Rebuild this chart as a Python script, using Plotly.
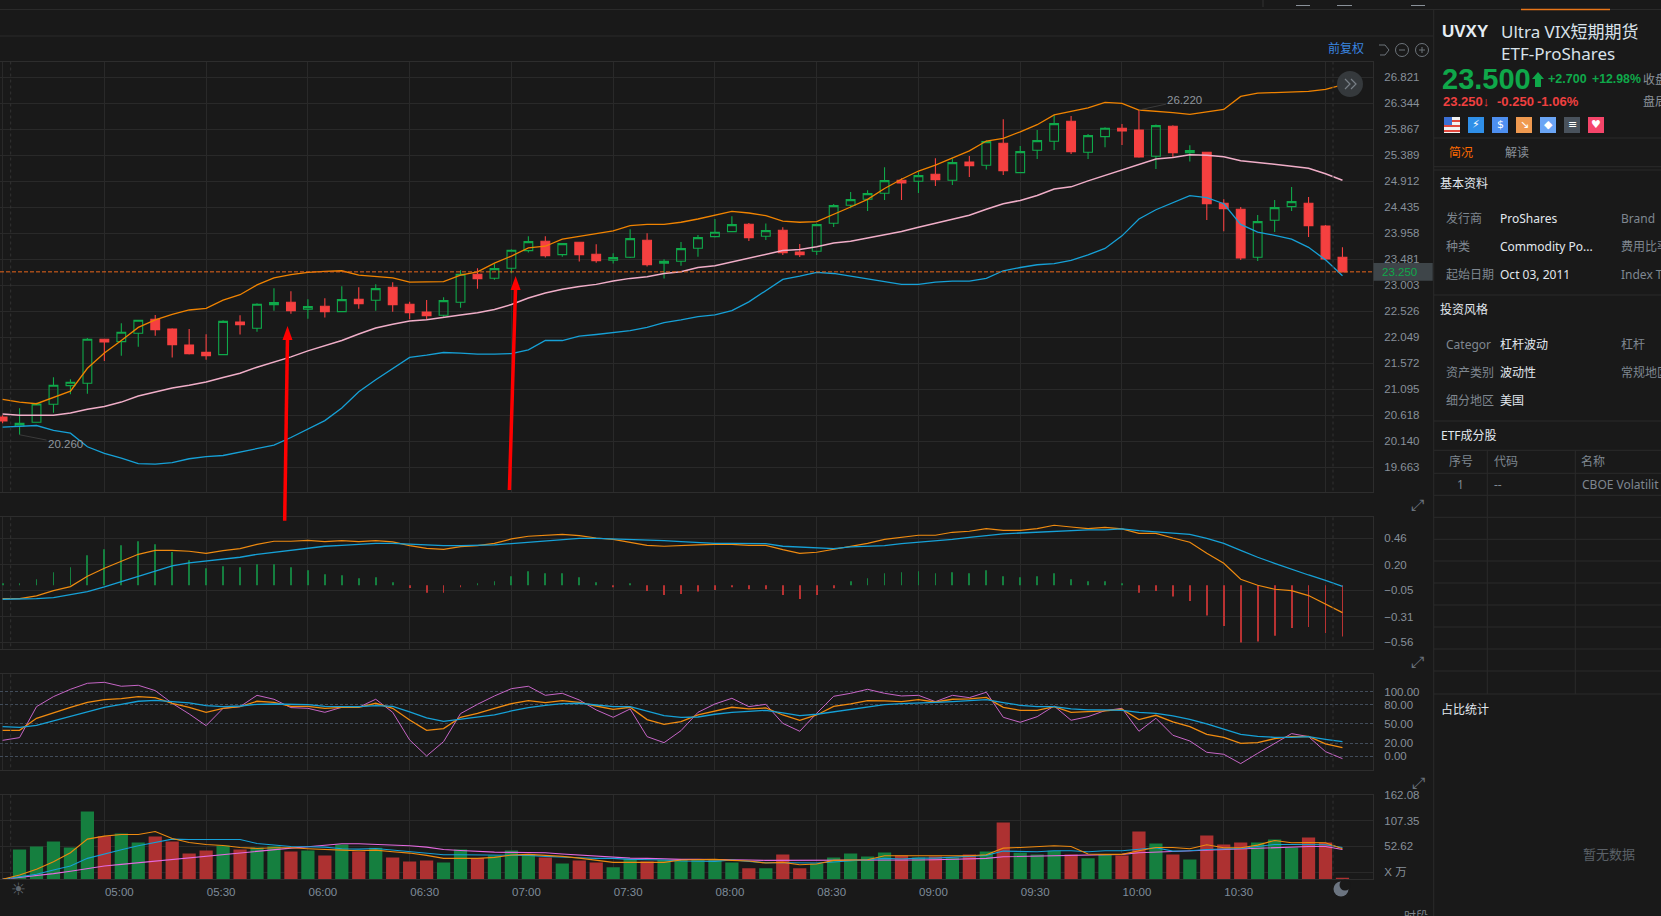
import plotly.graph_objects as go
from plotly.subplots import make_subplots

W, H = 1661, 916

# candles, 5 minute bars from 04:30
open_ = [20.586, 20.421, 20.489, 20.819, 21.162, 21.205, 22.012, 21.969, 22.122, 22.379,
         22.202, 21.908, 21.773, 21.731, 22.33, 22.214, 22.648, 22.691, 22.563, 22.618,
         22.52, 22.746, 22.728, 22.967, 22.655, 22.514, 22.453, 22.691, 23.205, 23.132,
         23.315, 23.64, 23.811, 23.566, 23.792, 23.572, 23.462, 23.517, 23.829, 23.407,
         23.444, 23.682, 23.896, 23.988, 24.123, 23.903, 24.013, 23.615, 23.627, 24.141,
         24.471, 24.582, 24.692, 24.93, 24.912, 25.04, 24.93, 25.267, 25.206, 25.609,
         25.071, 25.481, 25.646, 26.013, 25.444, 25.732, 25.885, 25.854, 25.371, 25.921,
         25.438, 25.444, 24.508, 24.398, 23.517, 24.196, 24.447, 24.508, 24.092, 23.517]
high = [20.62, 20.745, 20.85, 21.315, 21.278, 22.037, 22.024, 22.306, 22.373, 22.459,
        22.214, 22.202, 22.104, 22.361, 22.453, 22.673, 22.948, 22.893, 22.746, 22.765,
        22.985, 22.967, 23.022, 23.058, 22.703, 22.734, 22.783, 23.278, 23.315, 23.395,
        23.664, 23.903, 23.903, 23.78, 23.798, 23.756, 23.591, 24.031, 23.958, 23.48,
        23.798, 23.927, 24.221, 24.27, 24.147, 24.135, 24.068, 23.762, 24.135, 24.496,
        24.716, 24.747, 25.169, 24.967, 25.089, 25.334, 25.328, 25.377, 25.658, 26.05,
        25.561, 25.854, 26.129, 26.111, 25.781, 25.903, 25.964, 26.22, 25.952, 25.94,
        25.573, 25.45, 24.582, 24.441, 24.294, 24.569, 24.808, 24.624, 24.11, 23.701]
low = [20.47, 20.26, 20.483, 20.666, 21.003, 21.015, 21.614, 21.712, 21.877, 22.079,
       21.676, 21.731, 21.639, 21.718, 22.098, 22.153, 22.538, 22.483, 22.391, 22.41,
       22.52, 22.575, 22.538, 22.52, 22.379, 22.385, 22.428, 22.593, 22.942, 23.107,
       23.223, 23.603, 23.511, 23.529, 23.438, 23.419, 23.401, 23.505, 23.346, 23.126,
       23.364, 23.529, 23.878, 23.982, 23.817, 23.835, 23.56, 23.523, 23.56, 24.074,
       24.416, 24.367, 24.569, 24.569, 24.698, 24.826, 24.845, 24.992, 25.126, 25.028,
       25.059, 25.322, 25.487, 25.414, 25.322, 25.536, 25.579, 25.346, 25.138, 25.352,
       25.273, 24.202, 23.994, 23.468, 23.45, 23.982, 24.367, 23.89, 23.48, 23.25]
close = [20.513, 20.47, 20.825, 21.168, 21.223, 22.012, 21.963, 22.141, 22.361, 22.19,
         21.914, 21.749, 21.712, 22.342, 22.281, 22.655, 22.685, 22.538, 22.612, 22.52,
         22.74, 22.667, 22.942, 22.648, 22.501, 22.447, 22.722, 23.205, 23.126, 23.309,
         23.646, 23.805, 23.548, 23.768, 23.566, 23.456, 23.511, 23.86, 23.383, 23.444,
         23.676, 23.878, 23.976, 24.117, 23.878, 24.007, 23.603, 23.566, 24.117, 24.465,
         24.576, 24.686, 24.924, 24.881, 25.016, 24.943, 25.255, 25.2, 25.64, 25.108,
         25.457, 25.658, 25.97, 25.457, 25.75, 25.885, 25.836, 25.359, 25.934, 25.438,
         25.475, 24.502, 24.41, 23.505, 24.172, 24.429, 24.539, 24.098, 23.487, 23.25]

boll_up = [20.91, 20.86, 20.83, 20.95, 21.06, 21.48, 21.76, 21.99, 22.23, 22.37,
           22.47, 22.55, 22.58, 22.73, 22.83, 23.01, 23.14, 23.20, 23.24, 23.26,
           23.27, 23.19, 23.17, 23.14, 23.06, 23.06, 23.07, 23.19, 23.25, 23.41,
           23.54, 23.69, 23.72, 23.85, 23.90, 23.95, 24.00, 24.10, 24.12, 24.12,
           24.16, 24.22, 24.29, 24.36, 24.33, 24.28, 24.18, 24.16, 24.17, 24.30,
           24.44, 24.58, 24.78, 24.95, 25.10, 25.21, 25.34, 25.47, 25.65, 25.70,
           25.82, 25.95, 26.13, 26.19, 26.26, 26.36, 26.34, 26.22, 26.20, 26.17,
           26.14, 26.18, 26.23, 26.47, 26.53, 26.54, 26.55, 26.56, 26.60, 26.68]
boll_mid = [20.64, 20.62, 20.62, 20.62, 20.66, 20.73, 20.78, 20.86, 20.97, 21.05,
            21.12, 21.17, 21.23, 21.31, 21.39, 21.50, 21.59, 21.69, 21.80, 21.89,
            21.99, 22.11, 22.22, 22.29, 22.35, 22.37, 22.42, 22.46, 22.50, 22.56,
            22.65, 22.77, 22.86, 22.93, 22.98, 23.02, 23.08, 23.13, 23.16, 23.22,
            23.25, 23.33, 23.36, 23.43, 23.51, 23.58, 23.64, 23.66, 23.71, 23.78,
            23.81, 23.87, 23.93, 23.99, 24.07, 24.14, 24.22, 24.29, 24.40, 24.50,
            24.56, 24.65, 24.77, 24.81, 24.92, 25.02, 25.13, 25.23, 25.32, 25.35,
            25.40, 25.39, 25.36, 25.29, 25.26, 25.22, 25.19, 25.15, 25.05, 24.93]
boll_low = [20.40, 20.42, 20.43, 20.34, 20.29, 20.04, 19.92, 19.83, 19.73, 19.72,
            19.75, 19.82, 19.86, 19.88, 19.94, 20.00, 20.07, 20.21, 20.37, 20.52,
            20.75, 21.05, 21.27, 21.47, 21.68, 21.72, 21.77, 21.76, 21.74, 21.74,
            21.75, 21.82, 21.99, 21.99, 22.07, 22.10, 22.14, 22.17, 22.23, 22.32,
            22.37, 22.43, 22.46, 22.54, 22.70, 22.90, 23.11, 23.17, 23.24, 23.22,
            23.17, 23.12, 23.07, 23.02, 23.02, 23.06, 23.08, 23.08, 23.13, 23.27,
            23.33, 23.38, 23.40, 23.46, 23.56, 23.68, 23.91, 24.22, 24.39, 24.52,
            24.65, 24.61, 24.50, 24.12, 23.98, 23.92, 23.85, 23.70, 23.47, 23.18]

macd_hist = [.019, .019, .058, .127, .176, .293, .352, .391, .431, .401,
             .326, .244, .166, .185, .176, .205, .205, .176, .146, .107,
             .097, .068, .078, .029, -.027, -.073, -.073, -.02, .009, .038,
             .087, .136, .117, .117, .078, .029, -.02, .009, -.056, -.096,
             -.086, -.063, -.047, -.02, -.04, -.04, -.096, -.135, -.096, -.03,
             .038, .068, .117, .127, .136, .117, .127, .117, .146, .087,
             .078, .087, .117, .058, .038, .038, .019, -.073, -.056, -.112,
             -.155, -.298, -.40, -.563, -.553, -.495, -.419, -.41, -.468, -.504]
macd_dif = [-.132, -.132, -.105, -.053, -.014, .087, .166, .238, .303, .342,
            .342, .333, .313, .339, .359, .401, .431, .431, .44, .427,
            .437, .427, .437, .424, .388, .362, .352, .378, .388, .411,
            .454, .48, .493, .499, .486, .463, .45, .421, .391, .382,
            .385, .395, .401, .401, .391, .391, .349, .313, .323, .352,
            .385, .411, .45, .47, .49, .49, .519, .529, .555, .538,
            .538, .555, .588, .571, .555, .568, .552, .509, .509, .463,
            .421, .313, .215, .058, -.001, -.04, -.053, -.102, -.187, -.269]
macd_dea = [-.138, -.138, -.132, -.122, -.092, -.063, -.017, .035, .084, .136,
            .189, .218, .238, .254, .274, .303, .323, .342, .362, .382,
            .391, .401, .411, .411, .401, .391, .388, .388, .391, .395,
            .408, .421, .431, .45, .46, .46, .454, .454, .444, .437,
            .427, .418, .411, .411, .411, .408, .382, .372, .362, .359,
            .375, .382, .388, .408, .421, .437, .45, .47, .49, .503,
            .512, .519, .529, .538, .542, .542, .552, .535, .525, .516,
            .499, .46, .411, .342, .274, .215, .156, .1, .048, -.011]

kdj_j = [24.7, 28.9, 76.8, 92.3, 103.6, 112.9, 114.4, 108.3, 109.8, 101.6,
         82.0, 65.5, 47.4, 74.2, 76.8, 94.3, 88.2, 75.3, 74.2, 68.0,
         75.8, 75.8, 88.2, 68.0, 25.3, 0.5, 22.7, 66.0, 80.4, 93.3,
         104.6, 108.3, 94.3, 97.4, 87.1, 71.7, 60.3, 73.2, 30.4, 21.1,
         39.7, 68.0, 80.9, 89.7, 76.8, 80.4, 51.0, 38.7, 66.5, 92.8,
         97.4, 103.6, 97.4, 93.3, 94.3, 84.5, 94.3, 90.7, 99.0, 60.3,
         52.6, 61.3, 77.8, 55.7, 61.3, 70.6, 74.2, 38.7, 58.8, 32.5,
         23.7, 6.2, 3.1, -11.3, 4.6, 20.1, 35.1, 30.4, 7.2, -3.6]
kdj_k = [40.2, 40.2, 58.8, 67.5, 75.8, 83.5, 87.6, 89.2, 92.3, 90.7,
         82.0, 75.8, 68.0, 74.2, 76.8, 85.1, 83.5, 77.3, 77.3, 74.2,
         75.8, 75.8, 82.0, 74.2, 56.2, 40.2, 42.8, 60.3, 66.5, 74.2,
         81.5, 86.1, 83.0, 86.1, 83.5, 77.8, 72.7, 75.8, 56.7, 49.5,
         53.6, 63.9, 70.1, 75.8, 73.2, 74.7, 63.9, 55.7, 63.9, 77.3,
         80.9, 86.1, 85.6, 84.5, 87.6, 84.0, 88.2, 88.7, 91.2, 75.8,
         71.1, 71.1, 76.8, 68.0, 69.1, 70.1, 72.7, 56.7, 63.4, 53.1,
         45.9, 34.0, 29.4, 20.1, 21.1, 27.3, 30.4, 30.9, 19.1, 13.4]
kdj_d = [45.9, 44.8, 47.9, 54.6, 61.3, 68.6, 75.8, 80.4, 85.1, 86.6,
         85.1, 82.5, 78.4, 76.8, 77.8, 80.4, 80.9, 80.4, 79.9, 77.3,
         76.8, 76.8, 78.4, 77.3, 68.6, 59.3, 54.1, 57.2, 59.8, 63.9,
         70.1, 75.3, 78.9, 81.4, 82.0, 79.9, 76.8, 76.8, 70.1, 62.9,
         60.3, 60.8, 65.0, 68.0, 69.6, 71.1, 67.0, 62.9, 65.0, 68.6,
         72.7, 76.8, 79.9, 81.4, 83.0, 83.5, 84.5, 85.6, 87.6, 83.0,
         78.9, 76.8, 76.8, 73.2, 71.7, 71.7, 71.1, 68.0, 66.5, 62.4,
         57.2, 50.0, 41.8, 34.0, 30.9, 29.4, 29.4, 30.4, 26.3, 22.7]

volume = [None, 46.3, 52.6, 63.1, 50.5, 126.3, 74.4, 80.0, 61.0, 73.7,
          63.1, 37.9, 44.2, 54.7, 46.3, 50.5, 53.3, 42.1, 44.2, 33.7,
          56.8, 42.1, 49.8, 29.5, 21.0, 23.1, 18.9, 46.3, 28.0, 33.7,
          44.2, 36.5, 29.5, 16.8, 23.1, 18.9, 8.4, 26.7, 21.0, 23.9,
          23.9, 25.2, 23.9, 18.9, 6.3, 6.3, 35.8, 6.3, 16.8, 29.5,
          37.9, 31.6, 40.0, 33.7, 29.5, 31.6, 29.5, 35.8, 42.1, 103.1,
          39.3, 35.8, 43.5, 35.8, 27.4, 35.8, 33.7, 84.2, 58.9, 35.8,
          25.2, 75.8, 56.8, 61.0, 61.0, 67.4, 50.5, 71.6, 61.0, -14.7]
vol_ma5 = [-16.9, -7.7, 4.2, 20.3, 39.3, 68.1, 74.4, 77.9, 77.9, 84.2,
           69.5, 61.0, 56.8, 54.7, 50.5, 48.4, 49.8, 49.8, 47.7, 47.0,
           44.9, 43.5, 44.9, 41.4, 38.6, 33.7, 27.4, 27.4, 27.4, 29.5,
           34.4, 35.8, 34.4, 31.6, 28.0, 23.9, 18.9, 18.9, 18.9, 18.9,
           23.9, 23.9, 25.2, 23.1, 21.7, 17.5, 18.9, 14.0, 15.4, 23.1,
           24.5, 24.5, 33.0, 33.0, 33.0, 33.0, 33.0, 33.0, 35.1, 49.1,
           50.5, 52.6, 54.0, 52.6, 36.5, 35.8, 35.8, 43.5, 50.5, 50.5,
           47.7, 56.1, 49.8, 49.8, 55.4, 65.3, 60.3, 61.0, 60.3, 47.7]
vol_ma10 = [-16.9, -12.0, -6.3, 2.8, 11.2, 27.4, 37.2, 45.6, 54.0, 61.0,
            68.1, 67.4, 67.4, 67.4, 67.4, 58.9, 56.1, 52.6, 51.9, 51.2,
            47.7, 47.0, 48.4, 44.9, 41.4, 39.3, 35.1, 35.1, 35.1, 35.1,
            35.1, 33.7, 31.6, 29.5, 28.8, 27.4, 27.4, 25.2, 25.2, 23.9,
            21.7, 21.7, 21.0, 23.9, 21.7, 18.2, 18.2, 18.2, 17.5, 19.6,
            21.7, 25.2, 27.4, 26.0, 28.0, 28.0, 29.5, 30.9, 33.7, 42.8,
            41.4, 41.4, 43.5, 43.5, 41.4, 43.5, 43.5, 47.0, 49.8, 42.8,
            43.5, 46.3, 47.0, 48.4, 52.6, 56.8, 56.8, 56.8, 56.1, 50.5]
vol_ma20 = [-16.9, -13.4, -9.1, -4.9, 0.0, 6.3, 11.2, 14.7, 18.2, 22.4,
            26.0, 29.5, 33.0, 35.1, 38.6, 42.8, 46.3, 49.1, 51.9, 54.7,
            58.2, 58.2, 56.8, 56.1, 54.0, 51.2, 46.3, 44.2, 42.1, 40.7,
            40.0, 39.3, 39.3, 36.5, 34.4, 32.3, 29.5, 28.0, 27.4, 26.0,
            25.2, 25.2, 25.2, 24.5, 23.9, 23.1, 23.1, 23.1, 22.4, 23.1,
            22.4, 22.4, 23.1, 23.1, 23.9, 24.5, 25.2, 27.4, 27.4, 30.9,
            31.6, 32.3, 33.0, 33.7, 35.1, 35.1, 35.8, 39.3, 40.7, 42.1,
            42.1, 44.2, 44.9, 46.3, 47.7, 49.8, 50.5, 52.6, 52.6, 46.3]

for s in [open_, high, low, close, boll_up, boll_mid, boll_low, macd_hist, macd_dif, macd_dea,
          kdj_j, kdj_k, kdj_d, volume, vol_ma5, vol_ma10, vol_ma20]:
    assert len(s) == 80, len(s)

bars = list(range(len(close)))
time_ticks = [0, 6, 12, 18, 24, 30, 36, 42, 48, 54, 60, 66, 72, 78]
time_labels = ["", "05:00", "05:30", "06:00", "06:30", "07:00", "07:30", "08:00",
               "08:30", "09:00", "09:30", "10:00", "10:30", ""]

price_ticks = [26.821, 26.344, 25.867, 25.389, 24.912, 24.435, 23.958, 23.481,
               23.003, 22.526, 22.049, 21.572, 21.095, 20.618, 20.140, 19.663]
macd_ticks = [0.46, 0.20, -0.05, -0.31, -0.56]
kdj_ticks = [100, 80, 50, 20, 0]
vol_ticks = [162.08, 107.35, 52.62, -2.11]
vol_labels = ["162.08", "107.35", "52.62", "X 万"]
last_price = 23.25

BG = "#191919"
GRID = "#292929"
AXIS_TXT = "#87909a"
GREEN = "#0fa84a"
RED = "#f54040"
VOL_GREEN = "#157f3f"
VOL_RED = "#ad3131"
ORANGE = "#ee8a10"
BLUE = "#16a0d6"
PINK = "#f0aec8"
PURPLE = "#c565c5"
FONT = "Liberation Sans, Noto Sans CJK SC, sans-serif"
PANEL_FONT = "Noto Sans, Noto Sans CJK SC, sans-serif"


def fx(px):
    return px / W


def fy(py):
    return 1 - py / H


fig = make_subplots(rows=4, cols=1, shared_xaxes=True)

fig.add_trace(go.Candlestick(x=bars, open=open_, high=high, low=low, close=close, whiskerwidth=0,
                             increasing=dict(line=dict(color=GREEN, width=1.1), fillcolor="rgba(0,0,0,0)"),
                             decreasing=dict(line=dict(color=RED, width=1.1), fillcolor=RED)), row=1, col=1)
for vals, col, lw in [(boll_up, "#f08300", 1.3), (boll_mid, PINK, 1.5), (boll_low, BLUE, 1.3)]:
    fig.add_trace(go.Scatter(x=bars, y=vals, mode="lines", line=dict(color=col, width=lw)), row=1, col=1)

hist_cols = [VOL_GREEN if v >= 0 else "#b83232" for v in macd_hist]
fig.add_trace(go.Bar(x=bars, y=macd_hist, width=0.05, marker=dict(color=hist_cols, line=dict(width=0))), row=2, col=1)
fig.add_trace(go.Scatter(x=bars, y=macd_dif, mode="lines", line=dict(color=ORANGE, width=1.2)), row=2, col=1)
fig.add_trace(go.Scatter(x=bars, y=macd_dea, mode="lines", line=dict(color=BLUE, width=1.3)), row=2, col=1)

fig.add_trace(go.Scatter(x=bars, y=kdj_j, mode="lines", line=dict(color=PURPLE, width=1)), row=3, col=1)
fig.add_trace(go.Scatter(x=bars, y=kdj_k, mode="lines", line=dict(color=ORANGE, width=1.3)), row=3, col=1)
fig.add_trace(go.Scatter(x=bars, y=kdj_d, mode="lines", line=dict(color=BLUE, width=1.3)), row=3, col=1)

vol_bottom = -16.86
vol_heights = [None if v is None else v - vol_bottom for v in volume]
vol_cols = [VOL_GREEN if c >= o else VOL_RED for o, c in zip(open_, close)]
fig.add_trace(go.Bar(x=bars, y=vol_heights, base=vol_bottom, width=0.78, marker=dict(color=vol_cols, line=dict(width=0))), row=4, col=1)
for vals, col in [(vol_ma20, "#e46ae0"), (vol_ma10, BLUE), (vol_ma5, ORANGE)]:
    fig.add_trace(go.Scatter(x=bars, y=vals, mode="lines", line=dict(color=col, width=1.1)), row=4, col=1)

x_common = dict(range=[-0.153, 80.8], domain=[0, fx(1373)], tickmode="array", tickvals=time_ticks, automargin=False,
                showgrid=True, gridcolor=GRID, gridwidth=1, zeroline=False, showline=True,
                linecolor="#2d2d2d", mirror=True, rangeslider=dict(visible=False), showticklabels=False, ticks="")
y_common = dict(side="right", showgrid=True, gridcolor=GRID, gridwidth=1, zeroline=False, showline=True, automargin=False,
                linecolor="#2d2d2d", mirror=True, ticks="", ticklabelstandoff=8,
                tickfont=dict(family=FONT, size=11.5, color=AXIS_TXT))

fig.update_layout(
    width=W, height=H, margin=dict(l=0, r=0, t=0, b=0), paper_bgcolor=BG, plot_bgcolor=BG,
    showlegend=False, boxgap=0.26, barmode="overlay", hovermode=False,
    xaxis=x_common, xaxis2=x_common, xaxis3=x_common,
    xaxis4={**x_common, "showticklabels": True, "ticktext": time_labels, "ticklabelshift": 15, "ticklabelstandoff": 2,
            "tickfont": dict(family=FONT, size=11.5, color="#7f8c99")},
    yaxis={**y_common, "domain": [fy(492), fy(61.5)], "range": [19.21, 27.11], "tickvals": price_ticks, "tickformat": ".3f"},
    yaxis2={**y_common, "domain": [fy(649.3), fy(517.3)], "range": [-0.629, 0.666], "tickvals": macd_ticks, "tickformat": ".2f"},
    yaxis3={**y_common, "domain": [fy(770.3), fy(674.3)], "range": [-21.65, 126.8], "tickvals": kdj_ticks, "tickformat": ".2f",
            "griddash": "3px,2px", "gridcolor": "#414c5a"},
    yaxis4={**y_common, "domain": [fy(879.3), fy(794.7)], "range": [vol_bottom, 162.08], "tickvals": vol_ticks, "ticktext": vol_labels},
)

shapes = []
annots = []


def hline(y, x0, x1, color="#2a2a2a", width=1):
    shapes.append(dict(type="line", xref="paper", yref="paper", x0=fx(x0), x1=fx(x1), y0=fy(y), y1=fy(y),
                       line=dict(color=color, width=width)))


def vline(x, y0, y1, color="#2a2a2a", width=1, dash="solid"):
    shapes.append(dict(type="line", xref="paper", yref="paper", x0=fx(x), x1=fx(x), y0=fy(y0), y1=fy(y1),
                       line=dict(color=color, width=width, dash=dash)))


def box(x0, y0, x1, y1, fill, line=None):
    shapes.append(dict(type="rect", xref="paper", yref="paper", x0=fx(x0), x1=fx(x1), y0=fy(y0), y1=fy(y1),
                       fillcolor=fill, line=dict(width=0) if line is None else dict(color=line, width=1)))


def circle(cx, cy, r, fill="rgba(0,0,0,0)", line=None):
    shapes.append(dict(type="circle", xref="paper", yref="paper", x0=fx(cx - r), x1=fx(cx + r), y0=fy(cy - r), y1=fy(cy + r),
                       fillcolor=fill, line=dict(width=0) if line is None else dict(color=line, width=1)))


def path(points, fill=None, color=None, width=1):
    d = "M " + " L ".join(f"{fx(a):.5f} {fy(b):.5f}" for a, b in points)
    if fill:
        d += " Z"
    shapes.append(dict(type="path", xref="paper", yref="paper", path=d, fillcolor=fill or "rgba(0,0,0,0)",
                       line=dict(color=color or "rgba(0,0,0,0)", width=width)))


def label(x, y, text, color="#8f969d", size=12, bold=False, anchor="left", family=PANEL_FONT):
    annots.append(dict(xref="paper", yref="paper", x=fx(x - 1.5 if anchor == "left" else x), y=fy(y), xanchor=anchor,
                       yanchor="middle", showarrow=False, text=f"<b>{text}</b>" if bold else text, borderpad=0,
                       font=dict(family=family, size=size, color=color)))


# last price line and its tag
shapes.append(dict(type="line", xref="paper", yref="y", x0=0, x1=fx(1373), y0=last_price, y1=last_price,
                   line=dict(color="#e8661a", width=1, dash="4px,2px")))
box(1373.5, 263, 1432.7, 280.7, "#3e4549")
label(1382, 272, "23.250", GREEN, 11.5, family=FONT)

# high / low notes
for i, price, ax, ay, txt in [(1, 20.26, 46, 9, "20.260"), (67, 26.22, 46, -10, "26.220")]:
    annots.append(dict(xref="x", yref="y", x=i, y=price, ax=ax, ay=ay, text=txt, showarrow=True, arrowhead=0,
                       arrowwidth=1, arrowcolor="#3a3a3a", font=dict(family=FONT, size=11.5, color="#8f969d")))

# dashed guides
for gx in (10.7, 1333):
    for top, bottom in [(61.5, 492), (517.3, 649.3), (674.3, 770.3), (794.7, 879.3)]:
        vline(gx, top, bottom, "#333333", dash="dot")

# red hand-drawn arrows
for tip, tail in [((287.5, 326), (284.7, 520.7)), ((515.6, 276), (509.4, 490))]:
    path([(tail[0], tail[1]), (tip[0], tip[1] + 10)], color="#ff0000", width=3.5)
    path([(tip[0], tip[1]), (tip[0] - 5, tip[1] + 14), (tip[0] + 5, tip[1] + 14)], fill="#ff0000")

# page chrome
hline(9.5, 0, 1661)
hline(36, 0, 1433)
vline(1433.7, 9.5, 916)
hline(9.5, 1521, 1610, "#e8761a", 1.5)
vline(1263, 0, 7, "#333333")
for a, b in [(1296, 1310), (1337, 1352), (1411, 1425)]:
    hline(5.5, a, b, "#8a9199")

label(1328, 48.7, "前复权", "#3a86e0", 12)
path([(1379, 45), (1385, 45), (1389, 50), (1385, 55), (1380, 55)], color="#6d747b")
circle(1402, 50, 6.5, line="#6d747b")
hline(50, 1399, 1405, "#6d747b")
circle(1422, 50, 6.5, line="#6d747b")
hline(50, 1419, 1425, "#6d747b")
vline(1422, 47, 53, "#6d747b")

# jump-to-latest button
circle(1350, 84, 13, fill="#35393c")
path([(1345, 79), (1350, 84), (1345, 89)], color="#787f86", width=1.2)
path([(1351, 79), (1356, 84), (1351, 89)], color="#787f86", width=1.2)

for ex, ey in [(1417, 505), (1417, 662), (1418, 783)]:
    label(ex, ey, "⤢", "#69727c", 16, anchor="center", family="DejaVu Sans")

label(18, 889, "☀", "#5f666e", 17, anchor="center", family="DejaVu Sans")
circle(1341, 889, 7.5, fill="#6b7480")
circle(1345, 885, 5.5, fill=BG)

# quote panel
label(1442.7, 32, "UVXY", "#e6edf4", 17, True, family=FONT)
label(1501.7, 32, "Ultra VIX短期期货", "#d9e2ea", 17)
label(1501.7, 54, "ETF-ProShares", "#d9e2ea", 17)
label(1442.7, 79.3, "23.500", GREEN, 29, True, family=FONT)
path([(1538, 72), (1544, 79), (1541, 79), (1541, 87), (1535, 87), (1535, 79), (1532, 79)], fill=GREEN)
label(1548.3, 79, "+2.700", GREEN, 12.5, True, family=FONT)
label(1592.7, 79, "+12.98%", GREEN, 12.3, True, family=FONT)
label(1643, 79, "收盘", "#8a9199", 12)
label(1443, 102, "23.250↓", "#f04040", 13, True, family=FONT)
label(1497.7, 102, "-0.250", "#f04040", 13, True, family=FONT)
label(1537.7, 102, "-1.06%", "#f04040", 13, True, family=FONT)
label(1643, 102, "盘后", "#8a9199", 12)

# badge row
box(1444, 117, 1460, 133, "#f2f2f2")
for sy in (121, 126, 131):
    hline(sy, 1444, 1460, "#e0483e", 2)
box(1444, 117, 1452, 125, "#3b6fd4")
for bx, col, glyph in [(1468, "#2f8fe8", "⚡"), (1492, "#4d8ff0", "$"), (1516, "#f09a50", "↘"),
                       (1540, "#6aa5f5", "◆"), (1564, "#49525c", "≡"), (1588, "#f5456a", "♥")]:
    box(bx, 117, bx + 16, 133, col)
    label(bx + 8, 125, glyph, "#ffffff", 11, anchor="center", family="DejaVu Sans")

hline(138, 1434, 1661)
label(1449, 152.7, "简况", "#ff6a00", 12)
label(1505, 152.7, "解读", "#8a9199", 12)
hline(166.7, 1434, 1661)
hline(170, 1434, 1661)

LBL = "#7f8790"
VAL = "#e2e8ee"
label(1440, 183.7, "基本资料", VAL, 12)
for yy, a, b, c in [(218.7, "发行商", "ProShares", "Brand"), (246.7, "种类", "Commodity Po...", "费用比率"),
                    (274.7, "起始日期", "Oct 03, 2011", "Index T")]:
    label(1446, yy, a, LBL)
    label(1500.3, yy, b, VAL)
    label(1621.7, yy, c, LBL)
hline(295, 1434, 1661)
label(1440, 309.3, "投资风格", VAL, 12)
for yy, a, b, c in [(344.7, "Categor", "杠杆波动", "杠杆"), (372.7, "资产类别", "波动性", "常规地区"), (400.7, "细分地区", "美国", "")]:
    label(1446, yy, a, LBL)
    label(1500.3, yy, b, VAL)
    if c:
        label(1621.7, yy, c, LBL)
hline(421, 1434, 1661)
label(1441, 435.7, "ETF成分股", VAL, 12)

# holdings table
for ly in [450.3, 473.3, 495.3, 517.3, 539.3, 561, 583, 605, 627, 649, 671, 694]:
    hline(ly, 1434, 1661)
vline(1487.3, 450.3, 694)
vline(1575.3, 450.3, 694)
label(1460.7, 461.7, "序号", LBL, anchor="center")
label(1494, 461.7, "代码", LBL)
label(1581.7, 461.7, "名称", LBL)
label(1460, 484.7, "1", LBL, anchor="center")
label(1494, 484.7, "--", LBL)
label(1582, 484.7, "CBOE Volatilit", LBL)
label(1441, 709, "占比统计", VAL, 12)
label(1609, 854, "暂无数据", "#5b6168", 13, anchor="center")
label(1404, 916, "时段", "#7f8790", 12)

fig.update_layout(shapes=shapes, annotations=annots)

fig.write_html("out.html", config={"displayModeBar": False},
               post_script="document.body.style.margin='0';document.body.style.background='%s';document.body.style.overflow='hidden';" % BG)
